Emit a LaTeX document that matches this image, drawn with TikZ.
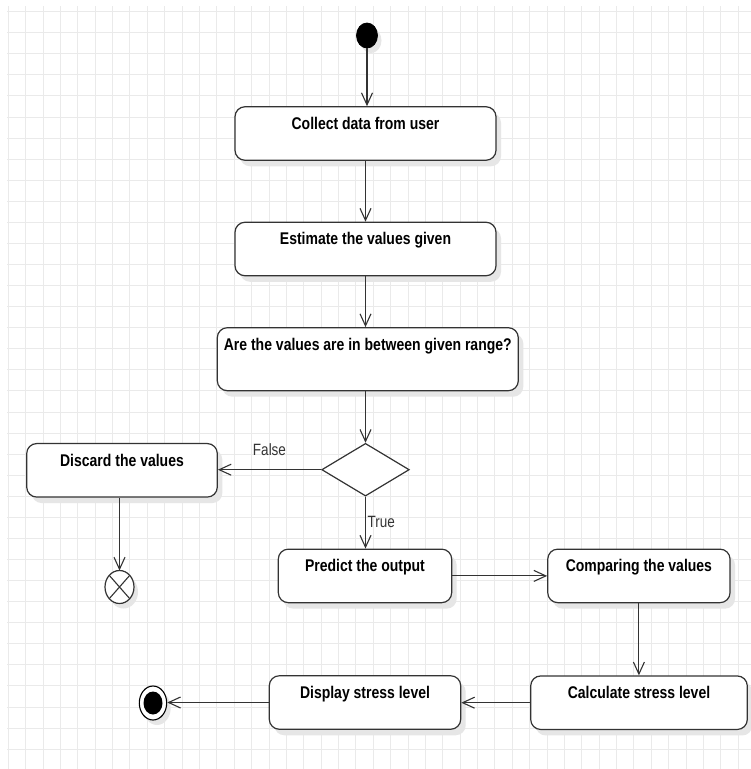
\documentclass[tikz,border=0pt]{standalone}
\usepackage{fontspec}
\setmainfont{Liberation Sans}
\usetikzlibrary{arrows.meta,shapes.geometric,shadows}
\definecolor{ln}{HTML}{333333}
\definecolor{gridc}{HTML}{EAEAEA}
\definecolor{shd}{HTML}{E6E6E6}
\newcommand{\stxt}[1]{\scalebox{1}[1.21]{#1}}
\begin{document}
\begin{tikzpicture}[x=1pt,y=-1pt,
  act/.style={draw=ln, line width=1.2pt, rounded corners=10pt, fill=white,
    inner xsep=0pt, inner ysep=0pt, text height=22.5pt, text depth=31pt,
    minimum height=53.5pt, font=\fontsize{14}{16}\selectfont\bfseries,
    drop shadow={shadow xshift=5pt, shadow yshift=-6pt, fill=shd, opacity=1}},
  flow/.style={draw=ln, line width=1.1pt, -{Straight Barb[length=12pt,width=11pt]}},
  lbl/.style={font=\fontsize{13.5}{15}\selectfont, text=ln, inner sep=0pt},
  shd/.style={drop shadow={shadow xshift=4pt, shadow yshift=-5pt, fill=shd, opacity=1}}
]
\useasboundingbox (0,0) rectangle (751,769);
\fill[white] (0,0) rectangle (751,769);
% grid
\begin{scope}
  \clip (7,6) rectangle (751,769);
  \foreach \i in {0,...,42} \draw[gridc, line width=1pt] ({8.3+17.38*\i},6) -- ++(0,763);
  \foreach \j in {0,...,36} \draw[gridc, line width=1pt] (7,{11.7+21.07*\j}) -- ++(744,0);
\end{scope}

% nodes
\node[ellipse, fill=black, draw=black, line width=0.8pt, minimum width=21pt, minimum height=25pt, inner sep=0pt, shd] (start) at (367,35.5) {};
\node[act, minimum width=261pt] (box1) at (365.5,133.5) {\stxt{Collect data from user}};
\node[act, minimum width=261pt] (box2) at (365.5,249) {\stxt{Estimate the values given}};
\node[act, minimum width=301pt, minimum height=63pt, text depth=40.5pt] (box3) at (367.8,359.2) {\stxt{Are the values are in between given range?}};
\node[diamond, draw=ln, line width=1.2pt, fill=white, minimum width=87.6pt, minimum height=52.7pt, inner sep=0pt] (dia) at (365.5,469.7) {};
\node[act, minimum width=190.6pt] (discard) at (122,470.3) {\stxt{Discard the values}};
\node[ellipse, draw=ln, line width=1.2pt, fill=white, minimum width=29pt, minimum height=33pt, inner sep=0pt, outer sep=0pt, shd] (ff) at (119.5,587) {};
\draw[ln, line width=1.1pt] (ff.north west) -- (ff.south east) (ff.north east) -- (ff.south west);
\node[act, minimum width=173.4pt] (predict) at (365,575.9) {\stxt{Predict the output}};
\node[act, minimum width=182.3pt] (comp) at (638.9,575.9) {\stxt{Comparing the values}};
\node[act, minimum width=216.6pt] (calc) at (639,702.7) {\stxt{Calculate stress level}};
\node[act, minimum width=191.4pt] (disp) at (365,702.5) {\stxt{Display stress level}};
\node[ellipse, draw=black, line width=1.1pt, fill=white, minimum width=27.4pt, minimum height=34pt, inner sep=0pt, shd] (endc) at (153,703) {};
\node[ellipse, fill=black, minimum width=19pt, minimum height=23pt, inner sep=0pt] (endin) at (endc) {};

% connectors
\draw[flow] (start) -- (start |- box1.north);
\draw[flow] (box1.south) -- (box1.south |- box2.north);
\draw[flow] (box2.south) -- (box2.south |- box3.north);
\draw[flow] (dia.north |- box3.south) -- (dia.north);
\draw[flow] (dia.west) -- node[lbl, midway, anchor=base, yshift=14pt] {\stxt{False}} (dia.west -| discard.east);
\draw[flow] (dia.south) -- node[lbl, pos=0.594, anchor=base west, xshift=1.5pt] {\stxt{True}} (dia.south |- predict.north);
\draw[flow] (discard.south -| ff) -- (ff.north);
\draw[flow] (predict.east) -- (predict.east -| comp.west);
\draw[flow] (comp.south) -- (comp.south |- calc.north);
\draw[flow] (calc.west) -- (calc.west -| disp.east);
\draw[flow] (disp.west) -- (disp.west -| endc.east);
\end{tikzpicture}
\end{document}
